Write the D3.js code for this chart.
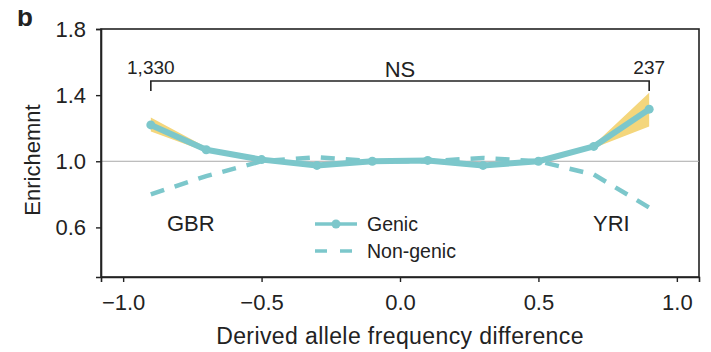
<!DOCTYPE html>
<html>
<head>
<meta charset="utf-8">
<script src="https://cdn.jsdelivr.net/npm/d3@7"></script>
<style>
  body { margin: 0; background: #fff; }
  text { font-family: "Liberation Sans", Arial, sans-serif; fill: #222; }
</style>
</head>
<body>
<svg id="chart" width="711" height="352"></svg>
<script>
'use strict';

// values
var freqDiff = [-0.9, -0.7, -0.5, -0.3, -0.1, 0.1, 0.3, 0.5, 0.7, 0.9];
var genic = [1.22, 1.07, 1.01, 0.975, 1.00, 1.005, 0.975, 1.00, 1.09, 1.315];
var genicLow = [1.18, 1.058, 1.003, 0.968, 0.994, 0.998, 0.968, 0.994, 1.08, 1.21];
var genicHigh = [1.265, 1.085, 1.017, 0.982, 1.006, 1.012, 0.982, 1.006, 1.10, 1.415];
var nonGenic = [0.80, 0.91, 1.00, 1.025, 1.00, 1.00, 1.02, 1.00, 0.92, 0.72];
var xTicks = [-1.0, -0.5, 0.0, 0.5, 1.0];
var yTicks = [0.6, 1.0, 1.4, 1.8];
var counts = ['1,330', '237'];

var teal = '#7cc7cb';
var yellow = '#f4d67c';

var svg = d3.select('#chart');
var plotL = 101, plotR = 699, plotT = 29, plotB = 277;

var x = d3.scaleLinear().domain([-1.08, 1.08]).range([plotL, plotR]);
var y = d3.scaleLinear().domain([0.3, 1.8]).range([plotB, plotT]);

var fmt = function(d) { return d3.format('.1f')(d).replace('-', '\u2212'); };

// box
svg.append('rect')
    .attr('x', plotL).attr('y', plotT)
    .attr('width', plotR - plotL).attr('height', plotB - plotT)
    .attr('fill', 'none').attr('stroke', '#222').attr('stroke-width', 1.6);

// reference line at 1.0
svg.append('line')
    .attr('x1', plotL).attr('x2', plotR)
    .attr('y1', y(1)).attr('y2', y(1))
    .attr('stroke', '#aaa').attr('stroke-width', 1);

var xAxis = svg.append('g')
    .attr('transform', 'translate(0,' + plotB + ')')
    .call(d3.axisBottom(x).tickValues(xTicks).tickFormat(fmt).tickSizeOuter(0).tickSize(5).tickPadding(12));
var yAxis = svg.append('g')
    .attr('transform', 'translate(' + plotL + ',0)')
    .call(d3.axisLeft(y).tickValues(yTicks).tickFormat(fmt).tickSizeOuter(0).tickSize(5).tickPadding(10));
[xAxis, yAxis].forEach(function(g) {
    g.select('.domain').attr('stroke', '#222').attr('stroke-width', 1.6);
    g.selectAll('.tick line').attr('stroke', '#222').attr('stroke-width', 1.4);
    g.selectAll('.tick text')
        .style('font-family', '"Liberation Sans", Arial, sans-serif')
        .style('font-size', '22px').attr('fill', '#222');
});

// confidence band
var band = d3.area()
    .x(function(d, i) { return x(freqDiff[i]); })
    .y0(function(d, i) { return y(genicLow[i]); })
    .y1(function(d, i) { return y(genicHigh[i]); });
svg.append('path').datum(genic)
    .attr('d', band).attr('fill', yellow);

var line = d3.line()
    .x(function(d, i) { return x(freqDiff[i]); })
    .y(function(d) { return y(d); });

svg.append('path').datum(nonGenic)
    .attr('d', line).attr('fill', 'none')
    .attr('stroke', teal).attr('stroke-width', 4.5)
    .attr('stroke-dasharray', '14,11');

svg.append('path').datum(genic)
    .attr('d', line).attr('fill', 'none')
    .attr('stroke', teal).attr('stroke-width', 6)
    .attr('stroke-linejoin', 'round');

svg.selectAll('circle.pt').data(genic).enter()
    .append('circle').attr('class', 'pt')
    .attr('cx', function(d, i) { return x(freqDiff[i]); })
    .attr('cy', function(d) { return y(d); })
    .attr('r', 4.5).attr('fill', teal);

// significance bracket
var bx0 = x(freqDiff[0]), bx1 = x(freqDiff[freqDiff.length - 1]);
var by = 81;
svg.append('path')
    .attr('d', 'M' + bx0 + ',' + (by + 10) + 'V' + by + 'H' + bx1 + 'V' + (by + 10))
    .attr('fill', 'none').attr('stroke', '#222').attr('stroke-width', 1.6);
svg.append('text').attr('x', bx0).attr('y', 74)
    .attr('text-anchor', 'middle').style('font-size', '19px').text(counts[0]);
svg.append('text').attr('x', bx1).attr('y', 74)
    .attr('text-anchor', 'middle').style('font-size', '19px').text(counts[1]);
svg.append('text').attr('x', x(0)).attr('y', 77)
    .attr('text-anchor', 'middle').style('font-size', '22px').text('NS');

// population labels
svg.append('text').attr('x', 167).attr('y', 231)
    .style('font-size', '22px').text('GBR');
svg.append('text').attr('x', 593).attr('y', 231)
    .style('font-size', '22px').text('YRI');

// legend
var lg = svg.append('g').attr('transform', 'translate(315,224)');
lg.append('line').attr('x1', 0).attr('x2', 42).attr('y1', 0).attr('y2', 0)
    .attr('stroke', teal).attr('stroke-width', 3.5);
lg.append('circle').attr('cx', 21).attr('cy', 0).attr('r', 4.5).attr('fill', teal);
lg.append('line').attr('x1', 0).attr('x2', 42).attr('y1', 27).attr('y2', 27)
    .attr('stroke', teal).attr('stroke-width', 3.5).attr('stroke-dasharray', '12,13');
lg.append('text').attr('x', 52).attr('y', 7).style('font-size', '19.5px').text('Genic');
lg.append('text').attr('x', 52).attr('y', 34).style('font-size', '19.5px').text('Non-genic');

// axis titles
svg.append('text').attr('x', x(0)).attr('y', 344)
    .attr('text-anchor', 'middle').style('font-size', '23px').style('letter-spacing', '0.4px')
    .text('Derived allele frequency difference');
svg.append('text')
    .attr('transform', 'translate(40,' + 160 + ') rotate(-90)')
    .attr('text-anchor', 'middle').style('font-size', '22px').text('Enrichemnt');

// panel letter, its top cut off as in the figure
svg.append('clipPath').attr('id', 'cut')
    .append('rect').attr('x', 0).attr('y', 10).attr('width', 60).attr('height', 30);
svg.append('text').attr('x', 17).attr('y', 26)
    .attr('clip-path', 'url(#cut)')
    .style('font-size', '26px').style('font-weight', 'bold').text('b');
</script>
</body>
</html>
